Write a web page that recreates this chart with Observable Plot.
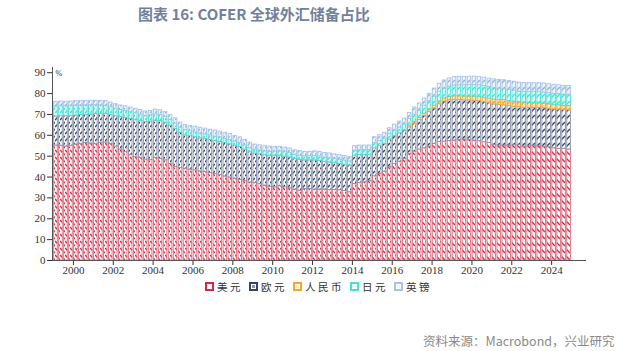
<!DOCTYPE html>
<html><head><meta charset="utf-8">
<script src="https://cdn.jsdelivr.net/npm/d3@7"></script>
<script src="https://cdn.jsdelivr.net/npm/@observablehq/plot@0.6"></script>
<style>
body{margin:0;background:#fff;}
#wrap{position:relative;width:640px;height:351px;overflow:hidden;font-family:"Noto Sans CJK SC",sans-serif;}
#title{position:absolute;left:138px;top:3px;font-size:15px;font-weight:700;color:#71819c;white-space:nowrap;}
#chart{position:absolute;left:0;top:30px;}
#legend{position:absolute;top:279px;left:205px;display:flex;align-items:center;font-size:10.5px;color:#333;}
#legend .it{display:flex;align-items:center;margin-right:6px;}
#legend .it svg{margin-right:3px;}
#legend .it span{letter-spacing:2.5px;}
#source{position:absolute;left:423px;top:331px;font-size:12.5px;color:#8a8a8a;white-space:nowrap;}
</style></head>
<body><div id="wrap">
<div id="title">图表 16: COFER 全球外汇储备占比</div>
<div id="chart"></div>
<div id="legend"></div>
<div id="source">资料来源：Macrobond，兴业研究</div>
</div>
<script>
// Quarterly, 1999Q1 .. 2024Q4 (share of total FX reserves, %)
const startYear = 1999;
const nQuarters = 104;
const xTicks = [2000,2002,2004,2006,2008,2010,2012,2014,2016,2018,2020,2022,2024];
const yTicks = [0,10,20,30,40,50,60,70,80,90];
const seriesNames = ["美元","欧元","人民币","日元","英镑"];

const usd = [55.1,55.0,54.6,55.1, 55.6,55.9,56.3,56.1, 55.8,56.4,56.6,55.8, 54.6,53.2,51.9,50.7,
 49.5,49.1,48.4,48.1, 49.1,48.8,48.0,46.3, 44.8,44.3,44.0,43.6, 43.2,42.7,42.4,41.9,
 41.4,40.9,40.3,39.8, 39.2,38.7,38.0,37.4, 37.1,36.6,35.9,35.4, 35.1,35.6,35.1,34.6,
 34.0,33.5,34.3,34.3, 34.0,34.0,34.0,33.8, 33.8,33.7,33.3,32.7, 36.7,37.2,37.5,38.2,
 40.4,41.5,42.6,44.7, 46.3,47.4,48.7,51.1, 52.2,53.2,53.8,54.6, 55.9,56.8,57.0,57.3,
 57.5,57.8,58.0,57.8, 57.5,57.2,56.7,56.3, 55.4,55.1,55.1,55.1, 55.3,55.4,54.6,54.8,
 55.1,54.8,54.6,54.3, 53.8,53.5,53.5,53.2];
const eur = [13.9,14.2,14.6,14.2, 13.9,13.8,13.5,13.9, 14.4,13.9,13.7,14.0, 14.6,15.5,16.5,17.2,
 17.9,17.8,17.9,18.5, 18.0,18.0,18.0,18.4, 18.3,16.9,16.0,16.0, 15.9,15.9,15.9,15.9,
 15.9,15.9,16.0,15.9, 15.9,15.7,15.2,14.5, 14.2,14.3,14.6,14.9, 15.2,14.7,14.7,14.8,
 14.7,14.8,13.7,13.7, 14.0,13.8,13.2,13.2, 12.9,12.6,12.6,12.8, 13.6,13.4,13.1,12.4,
 13.4,13.3,13.3,13.3, 13.3,13.6,13.6,12.7, 13.4,14.1,15.5,16.6, 17.0,18.1,19.2,19.5,
 19.5,19.1,18.8,18.9, 19.1,19.2,19.2,19.1, 19.4,19.5,19.3,18.9, 18.4,18.1,18.6,18.3,
 18.0,18.3,18.4,18.4, 18.6,18.8,18.6,18.8];
const cny = [null,null,null,null, null,null,null,null, null,null,null,null, null,null,null,null,
 null,null,null,null, null,null,null,null, null,null,null,null, null,null,null,null,
 null,null,null,null, null,null,null,null, null,null,null,null, null,null,null,null,
 null,null,null,null, null,null,null,null, null,null,null,null, null,null,null,null,
 null,null,null,null, null,null,null,0.9, 0.95,1.0,1.1,1.2, 1.3,1.4,1.5,1.6,
 1.7,1.8,1.8,1.9, 1.9,2.0,2.1,2.2, 2.3,2.4,2.5,2.5, 2.5,2.4,2.4,2.4,
 2.3,2.3,2.2,2.2, 2.1,2.1,2.0,2.0];
const jpy = [4.8,4.8,4.7,4.7, 4.7,4.6,4.5,4.4, 4.2,4.1,4.0,3.8, 3.6,3.5,3.4,3.3,
 3.2,3.1,3.0,3.0, 2.9,2.9,2.8,2.7, 2.6,2.5,2.5,2.4, 2.3,2.3,2.2,2.2,
 2.1,2.1,2.0,2.0, 2.0,2.0,2.0,2.0, 1.9,1.9,1.9,1.9, 2.0,2.0,2.1,2.1,
 2.0,2.0,2.0,2.0, 2.1,2.1,2.1,2.1, 2.0,2.0,2.0,2.0, 2.3,2.3,2.3,2.3,
 2.5,2.5,2.5,2.6, 2.7,2.8,2.9,3.2, 3.4,3.6,3.8,4.1, 4.3,4.5,4.7,5.0,
 5.2,5.3,5.4,5.5, 5.6,5.6,5.6,5.6, 5.4,5.3,5.2,5.2, 5.2,5.1,5.1,5.2,
 5.3,5.3,5.3,5.3, 5.4,5.4,5.4,5.4];
const gbp = [2.2,2.2,2.2,2.2, 2.2,2.2,2.2,2.2, 2.1,2.1,2.1,2.1, 2.1,2.1,2.1,2.1,
 2.1,2.1,2.1,2.1, 2.3,2.3,2.3,2.3, 2.4,2.4,2.4,2.4, 2.7,2.7,2.7,2.7,
 2.9,2.9,2.9,2.9, 2.6,2.6,2.6,2.6, 2.4,2.4,2.4,2.4, 2.2,2.2,2.2,2.2,
 2.1,2.1,2.1,2.1, 2.2,2.2,2.2,2.2, 2.2,2.2,2.2,2.2, 2.2,2.2,2.2,2.2,
 2.8,2.8,2.8,2.8, 2.8,2.8,2.8,2.8, 3.4,3.4,3.4,3.4, 3.9,3.9,3.9,3.9,
 4.0,4.0,4.0,4.0, 4.0,4.0,4.0,4.0, 4.3,4.3,4.3,4.3, 4.3,4.3,4.3,4.3,
 4.3,4.3,4.3,4.3, 4.2,4.2,4.2,4.2];

const seriesValues = [usd, eur, cny, jpy, gbp];
const keys = ["usd","eur","cny","jpy","gbp"];
const styles = {
  usd:{stroke:"#e06a7e", line:"#cf2a45", bg:"#ffffff", dir:"\\"},
  eur:{stroke:"#8892ab", line:"#34425f", bg:"#ffffff", dir:"/"},
  cny:{stroke:"#f5a52a", line:"#f5a52a", bg:"#fde6c0", dir:"/"},
  jpy:{stroke:"#45e0d6", line:"#45e0d6", bg:"#eafcfa", dir:"/"},
  gbp:{stroke:"#a9c4e6", line:"#93b4de", bg:"#eef4fb", dir:"/"}
};

const quarters = d3.range(nQuarters).map(i => startYear + i / 4);
const rows = [];
quarters.forEach((t, i) => {
  seriesValues.forEach((vals, s) => {
    const v = vals[i];
    if (v != null) rows.push({t, key: keys[s], value: v});
  });
});

const xDomain = [1998.95, 2025.75];
const yDomain = [0, 92.5];

const svg = Plot.plot({
  width: 640, height: 250,
  marginLeft: 52, marginRight: 54, marginTop: 37, marginBottom: 20,
  style: {fontFamily: "'Liberation Serif', serif", fontSize: "11px", color: "#333", background: "transparent"},
  x: {type: "linear", domain: xDomain, ticks: xTicks, tickFormat: d => String(d), tickSize: 5, tickPadding: 1, label: null},
  y: {domain: yDomain, ticks: yTicks, tickSize: 5, tickPadding: 2, label: null},
  color: {type: "identity"},
  marks: [
    Plot.rectY(rows, {
      x1: "t", x2: d => d.t + 0.25, y: "value", z: "key",
      fill: d => "url(#p-" + d.key + ")",
      stroke: d => styles[d.key].stroke,
      strokeWidth: 0.9, insetLeft: 0.7, insetRight: 0.7
    }),
    Plot.ruleY([0], {stroke: "#555", strokeWidth: 1}),
    Plot.ruleX([xDomain[0]], {y1: yDomain[0], y2: yDomain[1], stroke: "#555", strokeWidth: 1}),
    Plot.text(["%"], {frameAnchor: "top-left", dx: 3, dy: 3, fontSize: 8, textAnchor: "start", fill: "#333"})
  ]
});

let defs = "";
for (const k of keys) {
  const s = styles[k];
  const path = s.dir === "\\" ? "M0,1 L5,6" : "M0,6 L5,1";
  defs += `<pattern id="p-${k}" patternUnits="userSpaceOnUse" width="5" height="7">
    <rect width="5" height="7" fill="${s.bg}"/>
    <path d="${path}" stroke="${s.line}" stroke-width="1.4" fill="none"/>
  </pattern>`;
}
d3.select(svg).insert("defs", ":first-child").html(defs);
document.getElementById("chart").appendChild(svg);

// legend
const leg = d3.select("#legend");
keys.forEach((k, i) => {
  const s = styles[k];
  const it = leg.append("div").attr("class", "it");
  const sw = it.append("svg").attr("width", 9).attr("height", 9);
  sw.append("rect").attr("x", 1).attr("y", 1).attr("width", 7).attr("height", 7)
    .attr("fill", "#fff").attr("stroke", k === "eur" ? s.line : (k === "usd" ? s.line : s.stroke)).attr("stroke-width", 2);
  sw.append("rect").attr("x", 3).attr("y", 3).attr("width", 3).attr("height", 3)
    .attr("fill", k === "eur" ? "#8892ab" : s.bg);
  it.append("span").text(seriesNames[i]);
});
</script>
</body></html>
